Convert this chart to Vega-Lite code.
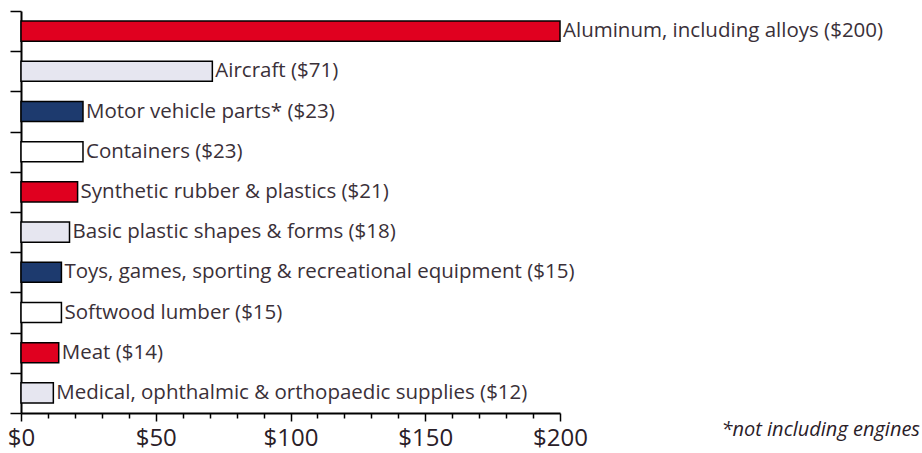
{
  "$schema": "https://vega.github.io/schema/vega-lite/v6.json",
  "width": 539,
  "height": 402,
  "autosize": "none",
  "padding": {"left": 21, "top": 11, "right": 362, "bottom": 40},
  "background": "white",
  "config": {"view": {"stroke": null}, "font": "Open Sans"},
  "title": {
    "text": "*not including engines",
    "orient": "bottom",
    "anchor": "end",
    "frame": "group",
    "fontStyle": "italic",
    "fontWeight": "normal",
    "fontSize": 20,
    "color": "#2a2028",
    "font": "Open Sans",
    "dx": 360,
    "offset": -30
  },
  "data": {
    "values": [
      {"item": "Aluminum, including alloys", "value": 200, "label": "Aluminum, including alloys ($200)", "group": "red"},
      {"item": "Aircraft", "value": 71, "label": "Aircraft ($71)", "group": "lavender"},
      {"item": "Motor vehicle parts*", "value": 23, "label": "Motor vehicle parts* ($23)", "group": "navy"},
      {"item": "Containers", "value": 23, "label": "Containers ($23)", "group": "white"},
      {"item": "Synthetic rubber & plastics", "value": 21, "label": "Synthetic rubber & plastics ($21)", "group": "red"},
      {"item": "Basic plastic shapes & forms", "value": 18, "label": "Basic plastic shapes & forms ($18)", "group": "lavender"},
      {"item": "Toys, games, sporting & recreational equipment", "value": 15, "label": "Toys, games, sporting & recreational equipment ($15)", "group": "navy"},
      {"item": "Softwood lumber", "value": 15, "label": "Softwood lumber ($15)", "group": "white"},
      {"item": "Meat", "value": 14, "label": "Meat ($14)", "group": "red"},
      {"item": "Medical, ophthalmic & orthopaedic supplies", "value": 12, "label": "Medical, ophthalmic & orthopaedic supplies ($12)", "group": "lavender"}
    ]
  },
  "encoding": {
    "y": {
      "field": "item",
      "type": "nominal",
      "sort": null,
      "scale": {"paddingInner": 0, "paddingOuter": 0},
      "axis": {
        "title": null,
        "labels": false,
        "tickBand": "extent",
        "domainColor": "black",
        "domainWidth": 2,
        "tickColor": "black",
        "tickWidth": 1.5,
        "tickSize": 11
      }
    },
    "x": {
      "field": "value",
      "type": "quantitative",
      "scale": {"domain": [0, 200], "nice": false},
      "axis": {
        "title": null,
        "grid": false,
        "values": [0, 10, 20, 30, 40, 50, 60, 70, 80, 90, 100, 110, 120, 130, 140, 150, 160, 170, 180, 190, 200],
        "labelExpr": "datum.value % 50 == 0 ? '$' + datum.value : ''",
        "labelFontSize": 24,
        "labelColor": "#2a2028",
        "labelPadding": 5,
        "labelFlush": false,
        "domainColor": "black",
        "domainWidth": 2,
        "tickColor": "black",
        "tickWidth": 1.5,
        "tickSize": {"condition": {"test": "datum.value % 50 == 0", "value": 8}, "value": 5}
      }
    }
  },
  "layer": [
    {
      "mark": {"type": "bar", "stroke": "black", "strokeWidth": 1.5, "height": {"band": 0.5}},
      "encoding": {
        "fill": {
          "field": "group",
          "type": "nominal",
          "scale": {"domain": ["red", "lavender", "navy", "white"], "range": ["#e0001f", "#e6e6f0", "#1d3a6e", "#ffffff"]},
          "legend": null
        }
      }
    },
    {
      "mark": {"type": "text", "align": "left", "baseline": "middle", "dx": 3, "fontSize": 20.5, "color": "#3a3038"},
      "encoding": {"text": {"field": "label"}}
    }
  ]
}
